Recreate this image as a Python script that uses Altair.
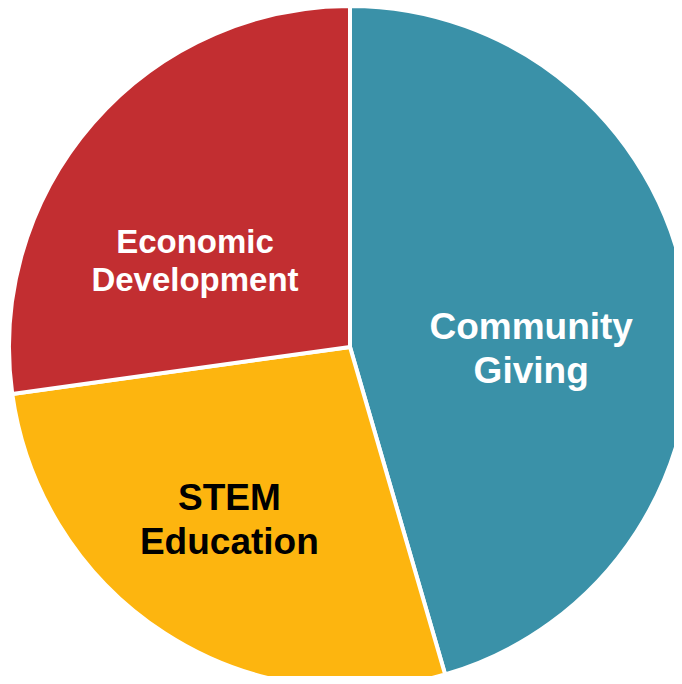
import altair as alt
import pandas as pd

categories = ["Community Giving", "STEM Education", "Economic Development"]
shares = [45.5, 27.3, 27.2]
labels = ["Community\nGiving", "STEM\nEducation", "Economic\nDevelopment"]
slice_colors = ["#3A91A8", "#FDB50F", "#C22E31"]
rank = [0, 1, 2]

df = pd.DataFrame({"category": categories, "share": shares, "label": labels, "rank": rank})

theta_scale = alt.Scale(domain=[0, 100])
CX, CY = 342, 339

pie = (
    alt.Chart(df)
    .mark_arc(outerRadius=341, stroke="white", strokeWidth=4)
    .encode(
        x=alt.value(CX),
        y=alt.value(CY),
        theta=alt.Theta("share:Q", stack=True, scale=theta_scale),
        order=alt.Order("rank:Q"),
        color=alt.Color("category:N", scale=alt.Scale(domain=categories, range=slice_colors), legend=None),
    )
)

text_base = (
    alt.Chart(df)
    .transform_window(cum="sum(share)", sort=[alt.SortField("rank")], frame=[None, 0])
    .transform_calculate(mid="datum.cum - datum.share / 2")
)

# per-label style: radius, dx, dy, font size, line height, colour
label_style = {
    "Community Giving": dict(radius=183, dx=0, dy=7, fontSize=37, lineHeight=44, color="white"),
    "STEM Education": dict(radius=209, dx=-7, dy=-23, fontSize=37, lineHeight=44, color="black"),
    "Economic Development": dict(radius=179, dx=-20, dy=14, fontSize=33, lineHeight=38, color="white"),
}

layers = [pie]
for cat in categories:
    st = label_style[cat]
    layers.append(
        text_base.transform_filter(alt.datum.category == cat)
        .mark_text(
            radius=st["radius"], dx=st["dx"], dy=st["dy"],
            fontSize=st["fontSize"], lineHeight=st["lineHeight"],
            color=st["color"], font="Liberation Sans", fontWeight="bold",
            align="center", baseline="middle", lineBreak="\n",
        )
        .encode(
            x=alt.value(CX),
            y=alt.value(CY),
            theta=alt.Theta("mid:Q", stack=False, scale=theta_scale),
            text="label:N",
        )
    )

chart = (
    alt.layer(*layers)
    .properties(width=666, height=668, padding=0, autosize=alt.AutoSizeParams(type="none"), background="white")
    .configure_view(stroke=None)
)

chart.save("out.html", embed_options={"renderer": "svg", "actions": False})
